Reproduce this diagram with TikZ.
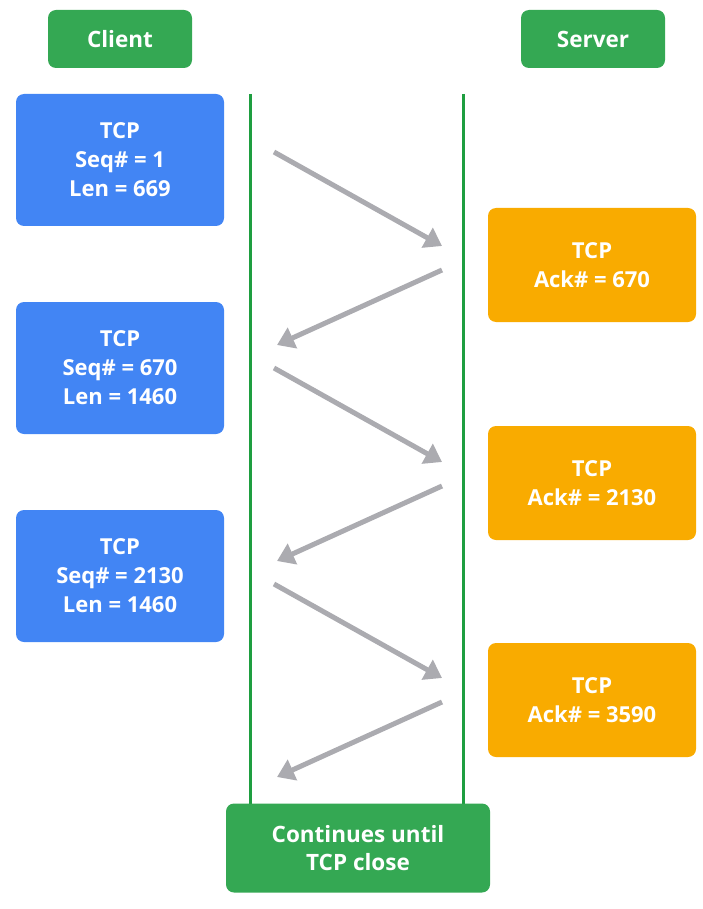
\documentclass[tikz,border=0pt]{standalone}
\usepackage{fontspec}
\setmainfont{Open Sans}
\usetikzlibrary{arrows.meta}
\definecolor{gblue}{HTML}{4285F4}
\definecolor{gorange}{HTML}{F9AB00}
\definecolor{ggreen}{HTML}{34A853}
\definecolor{gline}{HTML}{1E9E40}
\definecolor{ggray}{HTML}{ABABB0}
\tikzset{
    title-box/.style = {fill=ggreen, text=white, rounded corners=8pt, inner sep=0pt, align=center, minimum width=144pt, minimum height=58pt, font=\bfseries\fontsize{22.5}{28}\selectfont},
    client-box/.style = {fill=gblue, text=white, rounded corners=8pt, inner sep=0pt, align=center, minimum width=208pt, minimum height=132pt, font=\bfseries\fontsize{22}{29}\selectfont},
    server-box/.style = {fill=gorange, text=white, rounded corners=8pt, inner sep=0pt, align=center, minimum width=208pt, minimum height=114pt, font=\bfseries\fontsize{22}{29}\selectfont},
    time-line/.style = {draw=gline, line width=3pt},
    msg-arrow/.style = {draw=ggray, line width=5pt, -{Triangle[length=17pt,width=22pt]}},
}
\begin{document}
\begin{tikzpicture}[x=1pt,y=-1pt]
\useasboundingbox (0,0) rectangle (703,909);
% headers
\node [title-box] (client) at (120,39) {Client};
\node [title-box] (server) at (593,39) {Server};
% client segments
\node [client-box] (seg1) at (120,160) {TCP\\Seq\# = 1\\Len = 669};
\node [client-box] (seg2) at (120,368) {TCP\\Seq\# = 670\\Len = 1460};
\node [client-box] (seg3) at (120,576) {TCP\\Seq\# = 2130\\Len = 1460};
% server acks
\node [server-box] (ack1) at (592,265) {TCP\\Ack\# = 670};
\node [server-box] (ack2) at (592,483) {TCP\\Ack\# = 2130};
\node [server-box] (ack3) at (592,700) {TCP\\Ack\# = 3590};
% time lines
\coordinate (ltop) at (250,94);
\coordinate (rtop) at (463,94);
\draw [time-line] (ltop) -- (250,805);
\draw [time-line] (rtop) -- (463,805);
\node [title-box, minimum width=264pt, minimum height=89pt] (close) at (358,848) {Continues until\\TCP close};
% messages
\foreach \i/\y in {1/152,2/368,3/584} {
    \coordinate (out\i) at (274,\y);
    \coordinate (in\i) at (442,\y+94);
    \coordinate (back\i) at (442,\y+118);
    \coordinate (ret\i) at (277,\y+193);
    \draw [msg-arrow] (out\i) -- (in\i);
    \draw [msg-arrow] (back\i) -- (ret\i);
}
\end{tikzpicture}
\end{document}
